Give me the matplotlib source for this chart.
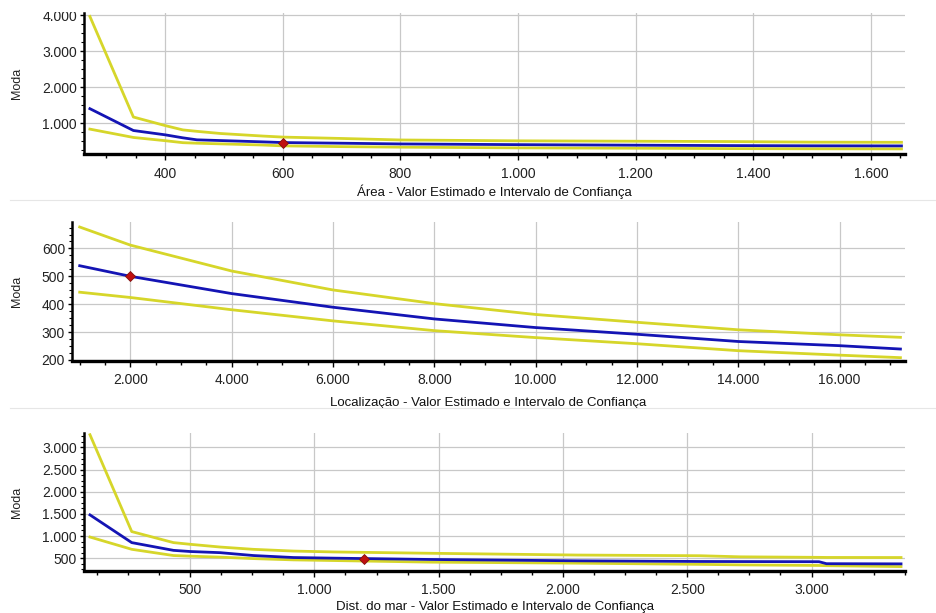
import matplotlib
matplotlib.use("Agg")
import matplotlib.pyplot as plt
from matplotlib.ticker import FuncFormatter, MultipleLocator
from matplotlib.patches import Rectangle
from matplotlib.lines import Line2D

plt.rcParams['font.family'] = ['Liberation Sans', 'DejaVu Sans']

# ---------------- data ----------------
area_x   = [272, 346, 400, 430, 454, 494, 565, 600, 700, 800, 1000, 1200, 1360, 1500, 1652]
area_sup = [3965, 1168, 930, 810, 770, 710, 640, 610, 572, 530, 506, 495, 486, 470, 465]
area_est = [1400, 793, 673, 590, 534, 514, 478, 458, 440, 420, 400, 385, 374, 368, 365]
area_inf = [832, 600, 510, 455, 440, 422, 390, 366, 345, 330, 310, 300, 290, 285, 282]
area_pt  = (600, 458)

loc_x   = [1000, 2000, 4000, 6000, 8000, 10000, 12000, 14000, 16000, 17200]
loc_sup = [677, 612, 519, 451, 402, 363, 335, 308, 290, 281]
loc_est = [538, 500, 438, 389, 347, 316, 292, 266, 251, 239]
loc_inf = [443, 424, 380, 340, 305, 280, 258, 233, 217, 208]
loc_pt  = (2000, 500)

mar_x   = [97, 265, 433, 500, 621, 755, 916, 1080, 1470, 2060, 2550, 2714, 3030, 3060, 3360]
mar_sup = [3287, 1100, 851, 813, 751, 699, 660, 640, 610, 570, 555, 530, 518, 516, 514]
mar_est = [1477, 851, 676, 650, 624, 559, 514, 500, 470, 440, 425, 423, 420, 375, 371]
mar_inf = [977, 700, 559, 545, 523, 490, 461, 446, 410, 387, 360, 348, 335, 330, 310]
mar_pt  = (1200, 490)

xlabels = ["Área - Valor Estimado e Intervalo de Confiança",
           "Localização - Valor Estimado e Intervalo de Confiança",
           "Dist. do mar - Valor Estimado e Intervalo de Confiança"]
ylabel = "Moda"

# ---------------- layout ----------------
W, H = 936, 613
fig = plt.figure(figsize=(W / 100, H / 100), dpi=100)

def px_axes(l, r, t, b):
    return fig.add_axes([l / W, 1 - b / H, (r - l) / W, (b - t) / H])

YELLOW = '#d6d62a'
BLUE = '#1414b4'
RED = '#c01010'
GRID = '#c8c8c8'

def thousands(v, pos):
    return f"{int(round(v)):,}".replace(",", ".")

panels = [
    dict(box=(84, 905, 13, 154), x=area_x, sup=area_sup, est=area_est, inf=area_inf, pt=area_pt,
         xlim=(262, 1658), ylim=(140, 4060), xmaj=200, xmin=50, ymaj=1000, ymin_loc=250, lp=3),
    dict(box=(72, 905, 222, 361), x=loc_x, sup=loc_sup, est=loc_est, inf=loc_inf, pt=loc_pt,
         xlim=(848, 17290), ylim=(196, 695), xmaj=2000, xmin=500, ymaj=100, ymin_loc=25, lp=7),
    dict(box=(84, 905, 433, 571), x=mar_x, sup=mar_sup, est=mar_est, inf=mar_inf, pt=mar_pt,
         xlim=(73, 3376), ylim=(210, 3326), xmaj=500, xmin=125, ymaj=500, ymin_loc=125, lp=2.5),
]

for i, p in enumerate(panels):
    ax = px_axes(*p['box'])
    ax.plot(p['x'], p['sup'], color=YELLOW, lw=2.0, zorder=3)
    ax.plot(p['x'], p['inf'], color=YELLOW, lw=2.0, zorder=3)
    ax.plot(p['x'], p['est'], color=BLUE, lw=2.0, zorder=4)
    ax.plot([p['pt'][0]], [p['pt'][1]], marker='D', ms=5.5, color=RED,
            markeredgecolor='#801010', mew=0.6, zorder=5)
    ax.set_xlim(*p['xlim'])
    ax.set_ylim(*p['ylim'])
    ax.xaxis.set_major_locator(MultipleLocator(p['xmaj']))
    ax.xaxis.set_minor_locator(MultipleLocator(p['xmin']))
    ax.yaxis.set_major_locator(MultipleLocator(p['ymaj']))
    ax.yaxis.set_minor_locator(MultipleLocator(p['ymin_loc']))
    ax.xaxis.set_major_formatter(FuncFormatter(thousands))
    ax.yaxis.set_major_formatter(FuncFormatter(thousands))
    ax.grid(True, which='major', color=GRID, lw=0.9)
    ax.set_axisbelow(True)
    for s in ('top', 'right'):
        ax.spines[s].set_visible(False)
    ax.spines['bottom'].set_linewidth(2.4)
    ax.spines['left'].set_linewidth(1.8)
    ax.tick_params(axis='x', which='major', length=4, width=1, pad=5,
                   labelsize=10, labelcolor='#222222')
    ax.tick_params(axis='x', which='minor', length=3, width=1)
    ax.tick_params(axis='y', which='major', length=3, width=1, pad=2,
                   labelsize=10, labelcolor='#222222')
    ax.tick_params(axis='y', which='minor', length=2, width=0.8)
    ax.set_xlabel(xlabels[i], fontsize=9.5, color='#111111', labelpad=p['lp'])
    ax.set_ylabel(ylabel, fontsize=9, color='#222222')
    ax.yaxis.set_label_coords(-(p['box'][0] - 23) / (p['box'][1] - p['box'][0]), 0.5)

# faint separators between panels
for yy in (199.5, 407.5):
    fig.add_artist(Line2D([10 / W, 1.0], [1 - yy / H, 1 - yy / H], color='#e6e6e6', lw=0.8))

# top of the image is cropped in the reference
fig.add_artist(Rectangle((0, 1 - 12 / H), 1, 12 / H, transform=fig.transFigure,
                         facecolor='white', edgecolor='none', zorder=100))

fig.savefig("out.png", dpi=100)
